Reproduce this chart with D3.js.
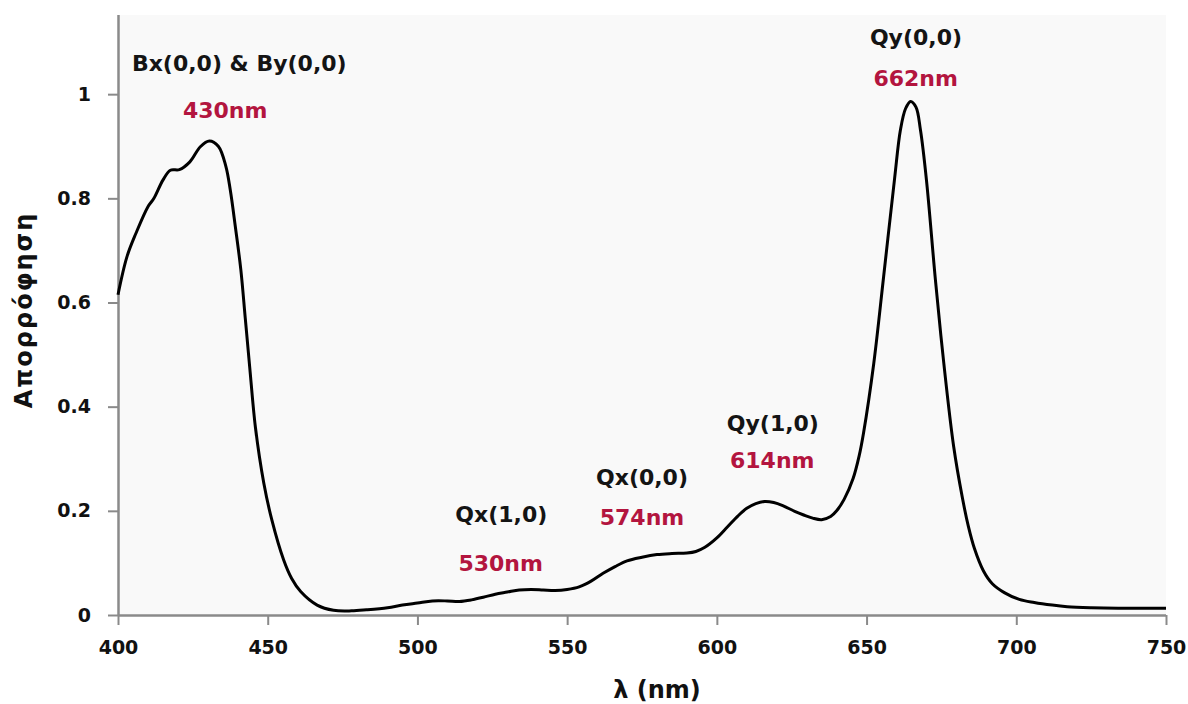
<!DOCTYPE html>
<html>
<head>
<meta charset="utf-8">
<script src="https://cdn.jsdelivr.net/npm/d3@7"></script>
<style>
  html, body { margin: 0; padding: 0; background: white; overflow: hidden; }
</style>
</head>
<body>
<svg width="1188" height="704"></svg>
<script>
// spectrum
var wavelength = [400, 403, 406, 410, 412, 415, 417.5, 420.5, 424, 427.5, 430.5, 433.5, 436, 437.5, 439.2, 441, 442.5, 444, 445.9, 448.7,
  451.4, 455.3, 458, 461, 466.5, 472, 478, 483, 490, 495, 500, 505, 510, 514, 518, 522, 526, 530, 534, 538,
  542, 546, 550, 554, 558, 562, 566, 570, 575, 580, 585, 590, 593, 596, 600, 603.5, 607, 610, 613, 616,
  619, 622, 626, 629, 632, 635, 638, 640, 642.5, 645.5, 647.5, 649, 652.4, 655.7, 659.3, 661.3, 663, 664.7, 666.5, 668, 670,
  673, 675.8, 679.1, 682, 684, 686, 689, 692, 696, 701, 706, 712, 717, 725, 734, 742, 750]
var absorbance = [0.615, 0.688, 0.733, 0.784, 0.800, 0.835, 0.854, 0.855, 0.870, 0.899, 0.910, 0.900, 0.862, 0.816, 0.745, 0.664, 0.570, 0.475, 0.360, 0.253,
  0.182, 0.106, 0.070, 0.045, 0.019, 0.009, 0.008, 0.010, 0.014, 0.019, 0.023, 0.027, 0.027, 0.026, 0.029, 0.034, 0.040, 0.044, 0.048, 0.049,
  0.048, 0.047, 0.049, 0.054, 0.065, 0.080, 0.093, 0.104, 0.111, 0.116, 0.118, 0.119, 0.122, 0.130, 0.148, 0.169, 0.190, 0.205, 0.214, 0.218,
  0.216, 0.210, 0.199, 0.192, 0.186, 0.183, 0.189, 0.200, 0.222, 0.262, 0.305, 0.350, 0.483, 0.650, 0.835, 0.931, 0.972, 0.986, 0.975, 0.931, 0.835,
  0.643, 0.483, 0.323, 0.225, 0.170, 0.128, 0.085, 0.060, 0.043, 0.030, 0.024, 0.019, 0.016, 0.014, 0.013, 0.013, 0.013]

var xTicks = [400, 450, 500, 550, 600, 650, 700, 750]
var yTicks = [0, 0.2, 0.4, 0.6, 0.8, 1]

// band labels: name, peak text, centre (nm), baselines (absorbance units)
var bandNames = ["Bx(0,0) & By(0,0)", "Qx(1,0)", "Qx(0,0)", "Qy(1,0)", "Qy(0,0)"]
var bandPeaks = ["430nm", "530nm", "574nm", "614nm", "662nm"]
var bandNameX = [440.5, 528.0, 575.0, 618.7, 666.5]
var bandPeakX = [435.8, 527.8, 575.0, 618.5, 666.4]
var bandNameY = [1.044, 0.179, 0.249, 0.353, 1.094]
var bandPeakY = [0.954, 0.085, 0.173, 0.283, 1.015]

var svg = d3.select("svg")
var margin = {top: 15, right: 22, bottom: 89, left: 118}
var width = 1188 - margin.left - margin.right
var height = 704 - margin.top - margin.bottom

var x = d3.scaleLinear().domain([400, 750]).range([margin.left, margin.left + width])
var y = d3.scaleLinear().domain([0, 1.152]).range([margin.top + height, margin.top])

var font = "'DejaVu Sans', Verdana, sans-serif"

//plot area background
svg.append("rect")
    .attr("x", margin.left).attr("y", margin.top)
    .attr("width", width).attr("height", height)
    .attr("fill", "#f9f9f9")

var xAxis = svg.append("g")
    .attr("transform", "translate(0," + (margin.top + height) + ")")
    .call(d3.axisBottom(x).tickValues(xTicks).tickSize(10).tickPadding(16).tickFormat(d3.format("d")))
var yAxis = svg.append("g")
    .attr("transform", "translate(" + margin.left + ",0)")
    .call(d3.axisLeft(y).tickValues(yTicks).tickSize(10).tickPadding(17).tickFormat(function (d) { return d === 0 || d === 1 ? d : d.toFixed(1) }))

svg.selectAll(".domain").attr("stroke", "#8a8a8a").attr("stroke-width", 2.5)
svg.selectAll(".tick line").attr("stroke", "#8a8a8a").attr("stroke-width", 2)
svg.selectAll(".tick text")
    .style("font", "bold 19px " + font)
    .attr("fill", "#111")
yAxis.selectAll(".domain").attr("d", "M0.5," + (margin.top) + "V" + (margin.top + height))
xAxis.selectAll(".domain").attr("d", "M" + margin.left + ",0.5H" + (margin.left + width))

//spectrum
var points = wavelength.map(function (w, i) { return [w, absorbance[i]] })
var line = d3.line()
    .x(function (d) { return x(d[0]) })
    .y(function (d) { return y(d[1]) })
    .curve(d3.curveCatmullRom.alpha(0.5))
svg.append("path")
    .datum(points)
    .attr("fill", "none")
    .attr("stroke", "black")
    .attr("stroke-width", 3)
    .attr("stroke-linejoin", "round")
    .attr("d", line)

//labels on the bands
bandNames.forEach(function (name, i) {
    svg.append("text")
        .attr("x", x(bandNameX[i])).attr("y", y(bandNameY[i]))
        .attr("text-anchor", "middle").attr("fill", "#141414")
        .style("font", "bold 22px " + font)
        .text(name)
    svg.append("text")
        .attr("x", x(bandPeakX[i])).attr("y", y(bandPeakY[i]))
        .attr("text-anchor", "middle").attr("fill", "#b3153f")
        .style("font", "bold 22px " + font)
        .text(bandPeaks[i])
})

//axis titles
svg.append("text")
    .attr("x", x(580)).attr("y", 698)
    .attr("text-anchor", "middle").attr("fill", "#111")
    .style("font", "bold 24px " + font)
    .text("λ (nm)")
svg.append("text")
    .attr("transform", "translate(32," + 310 + ") rotate(-90)")
    .attr("text-anchor", "middle").attr("fill", "#111")
    .style("font", "bold 24px " + font)
    .style("letter-spacing", "2px")
    .text("Απορρόφηση")
</script>
</body>
</html>
